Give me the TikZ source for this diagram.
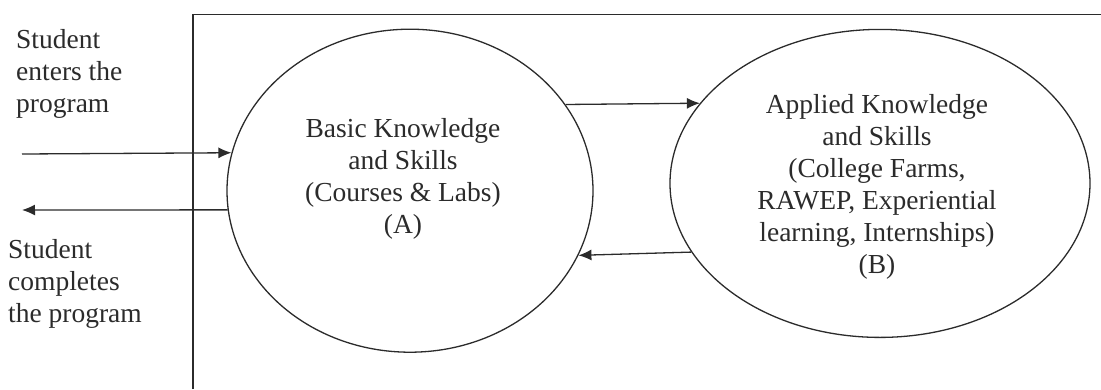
\documentclass[tikz,border=0pt]{standalone}
\usepackage{fontspec}
\setmainfont{Liberation Serif}
\usetikzlibrary{shapes.geometric,arrows.meta}
\definecolor{ink}{HTML}{2B2B2B}
\tikzset{
  x=1pt, y=-1pt,
  line/.style={draw=ink, line width=1.3pt},
  oval/.style={ellipse, line, inner sep=0pt},
  lbl/.style={inner sep=0pt, text=ink, font=\fontsize{27.5}{32}\selectfont},
  flow/.style={line, -{Latex[length=13pt,width=11pt]}}
}
\begin{document}
\begin{tikzpicture}
\useasboundingbox (0,0) rectangle (1101,389);
% frame (open at right and bottom)
\draw[line] (193,389) -- (193,14.3) -- (1101,14.3);
% ovals
\node[oval, minimum width=366pt, minimum height=323pt] (A) at (410,190.7) {};
\node[oval, minimum width=420pt, minimum height=308pt] (B) at (880,183.4) {};
% texts (base anchor = baseline of the last line)
\node[lbl, anchor=base west, align=left] (tin) at (16,112) {Student\\enters the\\program};
\node[lbl, anchor=base west, align=left] (tout) at (8,322) {Student\\completes\\the program};
\node[lbl, anchor=base, align=center] (tA) at (403,233.5) {Basic Knowledge\\and Skills\\(Courses \& Labs)\\(A)};
\node[lbl, anchor=base, align=center] (tB) at (877,273) {Applied Knowledge\\and Skills\\(College Farms,\\RAWEP, Experiential\\learning, Internships)\\(B)};
% connectors
\coordinate (inL) at (22,154);
\coordinate (outL) at (22,210);
\draw[flow] (inL) -- (A.168.6);
\draw[flow] (A.186.3) -- (outL);
\draw[flow] (A.29) -- (B.156);
\draw[flow] (B.200.2) -- (A.339.5);
\end{tikzpicture}
\end{document}
